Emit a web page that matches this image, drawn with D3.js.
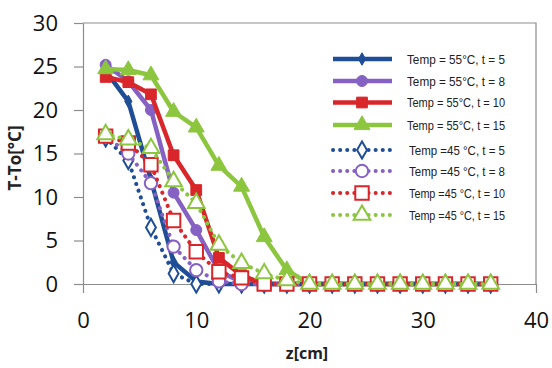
<!DOCTYPE html>
<html lang="en">

<head>
    <meta charset="UTF-8">
    <title>T-To vs z</title>
    <script src="https://d3js.org/d3.v7.min.js"></script>
    <style>
        body,
        html {
            margin: 0;
            padding: 0;
            background: #fff;
            overflow: hidden;
        }

        svg {
            display: block;
        }
    </style>
</head>

<body>
    <script>
        // depth positions [cm]
        const z = [2, 4, 6, 8, 10, 12, 14, 16, 18, 20, 22, 24, 26, 28, 30, 32, 34, 36];

        // temperature rise T-To [°C] for each run
        const t55_5 = [24.5, 21.0, 12.0, 2.5, 0.3, 0, 0, 0, 0, 0, 0, 0, 0, 0, 0, 0, 0, 0];
        const t55_8 = [25.2, 23.3, 20.0, 10.5, 6.2, 1.5, 0.2, 0, 0, 0, 0, 0, 0, 0, 0, 0, 0, 0];
        const t55_10 = [23.8, 23.2, 21.8, 14.8, 10.8, 3.0, 1.0, 0, 0, 0, 0, 0, 0, 0, 0, 0, 0, 0];
        const t55_15 = [24.7, 24.6, 24.0, 19.8, 18.0, 13.6, 11.2, 5.4, 1.6, 0, 0, 0, 0, 0, 0, 0, 0, 0];
        const t45_5 = [16.8, 14.2, 6.5, 1.2, 0, 0, 0, 0, 0, 0, 0, 0, 0, 0, 0, 0, 0, 0];
        const t45_8 = [17.0, 15.0, 11.6, 4.3, 1.6, 0.3, 0, 0, 0, 0, 0, 0, 0, 0, 0, 0, 0, 0];
        const t45_10 = [17.0, 16.2, 13.7, 7.3, 3.7, 1.4, 0.7, 0, 0, 0, 0, 0, 0, 0, 0, 0, 0, 0];
        const t45_15 = [17.2, 16.6, 15.6, 11.8, 9.3, 4.5, 2.4, 1.2, 0.4, 0, 0, 0, 0, 0, 0, 0, 0, 0];

        const seriesNames = [
            "Temp = 55°C, t = 5", "Temp = 55°C, t = 8", "Temp = 55°C, t = 10", "Temp = 55°C, t = 15",
            "Temp =45 °C, t = 5", "Temp =45 °C, t = 8", "Temp =45 °C, t = 10", "Temp =45 °C, t = 15"
        ];

        const xTicks = [0, 10, 20, 30, 40];
        const yTicks = [0, 5, 10, 15, 20, 25, 30];

        const width = 552;
        const height = 368;

        const blue = "#1f4e96", purple = "#8661c4", red = "#d8262b", green = "#8cc63f";

        const series = [
            { name: seriesNames[0], values: t55_5, color: blue, shape: d3.symbolDiamond, size: 45, hollow: false },
            { name: seriesNames[1], values: t55_8, color: purple, shape: d3.symbolCircle, size: 95, hollow: false },
            { name: seriesNames[2], values: t55_10, color: red, shape: d3.symbolSquare, size: 115, hollow: false },
            { name: seriesNames[3], values: t55_15, color: green, shape: d3.symbolTriangle, size: 110, hollow: false },
            { name: seriesNames[4], values: t45_5, color: blue, shape: d3.symbolDiamond, size: 85, hollow: true },
            { name: seriesNames[5], values: t45_8, color: purple, shape: d3.symbolCircle, size: 120, hollow: true },
            { name: seriesNames[6], values: t45_10, color: red, shape: d3.symbolSquare, size: 180, hollow: true },
            { name: seriesNames[7], values: t45_15, color: green, shape: d3.symbolTriangle, size: 120, hollow: true }
        ];

        const svg = d3.select("body")
            .append("svg")
            .attr("width", width)
            .attr("height", height);

        const x = d3.scaleLinear().domain([0, 40]).range([83, 536]);
        const y = d3.scaleLinear().domain([0, 30]).range([284, 23]);

        const axisColor = "#8c8c8c";
        const tickFont = "'Open Sans', sans-serif";

        // plot area frame (top and right)
        svg.append("path")
            .attr("d", `M${x(0)},${y(30)}H${x(40)}V${y(0)}`)
            .attr("fill", "none")
            .attr("stroke", axisColor)
            .attr("stroke-width", 1.2);

        // y axis
        const yAxis = svg.append("g")
            .attr("transform", `translate(${x(0)},0)`)
            .call(d3.axisLeft(y).tickValues(yTicks).tickSize(9).tickSizeOuter(0).tickPadding(16));
        yAxis.select(".domain").attr("stroke", axisColor).attr("stroke-width", 1.2);
        yAxis.selectAll(".tick line").attr("stroke", axisColor).attr("stroke-width", 1.2);
        yAxis.selectAll("text")
            .attr("fill", "#111")
            .style("font-family", tickFont)
            .style("font-size", "22px");

        // x axis
        const xAxis = svg.append("g")
            .attr("transform", `translate(0,${y(0)})`)
            .call(d3.axisBottom(x).tickValues(xTicks).tickSize(9).tickSizeOuter(0).tickPadding(19));
        xAxis.select(".domain").attr("stroke", axisColor).attr("stroke-width", 1.2);
        xAxis.selectAll(".tick line").attr("stroke", axisColor).attr("stroke-width", 1.2);
        xAxis.selectAll("text")
            .attr("fill", "#111")
            .style("font-family", tickFont)
            .style("font-size", "22px");

        // axis titles
        svg.append("text")
            .attr("x", 307)
            .attr("y", 359)
            .attr("text-anchor", "middle")
            .style("font-family", tickFont)
            .style("font-weight", "bold")
            .style("font-size", "16px")
            .attr("fill", "#222")
            .text("z[cm]");

        svg.append("text")
            .attr("transform", "translate(21,158) rotate(-90)")
            .attr("text-anchor", "middle")
            .style("font-family", tickFont)
            .style("font-weight", "bold")
            .style("font-size", "17px")
            .attr("fill", "#222")
            .text("T-To[°C]");

        const line = d3.line()
            .x((d, i) => x(z[i]))
            .y(d => y(d));

        function styleLine(sel, s) {
            sel.attr("fill", "none")
                .attr("stroke", s.color)
                .attr("stroke-linejoin", "round");
            if (s.hollow) {
                sel.attr("stroke-width", 4)
                    .attr("stroke-linecap", "round")
                    .attr("stroke-dasharray", "0.1 7");
            } else {
                sel.attr("stroke-width", 4.5);
            }
        }

        function styleMarker(sel, s) {
            sel.attr("d", d3.symbol().type(s.shape).size(s.size)())
                .attr("fill", s.hollow ? "#fff" : s.color)
                .attr("stroke", s.color)
                .attr("stroke-width", s.hollow ? 2 : 1);
        }

        // series lines and markers
        series.forEach(s => {
            const g = svg.append("g");
            g.append("path").datum(s.values).attr("d", line).call(styleLine, s);
            g.selectAll("path.mark")
                .data(s.values)
                .enter()
                .append("path")
                .attr("class", "mark")
                .attr("transform", (d, i) => `translate(${x(z[i])},${y(d)})`)
                .call(styleMarker, s);
        });

        // legend
        const legendRows = [59, 81, 102.5, 125, 150, 171, 193, 215];
        const legend = svg.append("g");
        series.forEach((s, i) => {
            const row = legend.append("g").attr("transform", `translate(0,${legendRows[i]})`);
            row.append("path").attr("d", "M333,0H392").call(styleLine, s);
            row.append("path").attr("transform", "translate(362,0)").call(styleMarker, s);
            row.append("text")
                .attr("x", s.hollow ? 409 : 407)
                .attr("y", 4.5)
                .attr("textLength", s.hollow ? 96 : 98)
                .attr("lengthAdjust", "spacingAndGlyphs")
                .style("font-family", "'Liberation Sans Narrow', 'Liberation Sans', sans-serif")
                .style("font-size", "13px")
                .attr("fill", "#222")
                .text(s.name);
        });
    </script>
</body>

</html>
